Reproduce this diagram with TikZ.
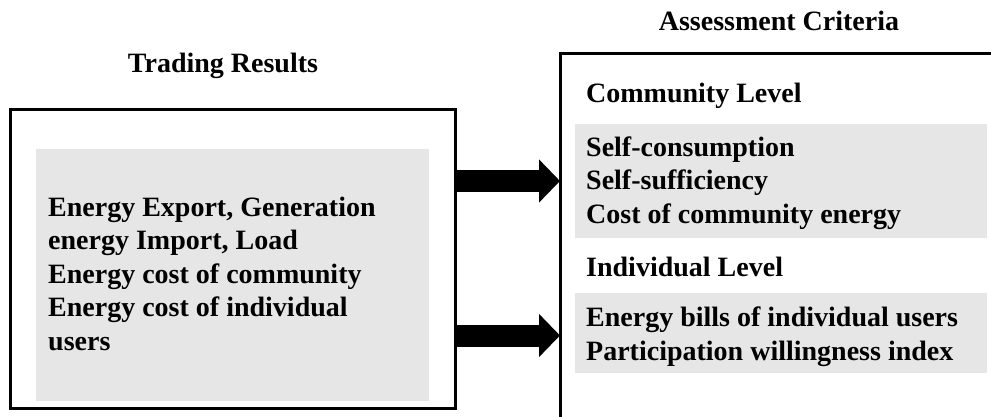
\documentclass[tikz,border=0pt]{standalone}
\usepackage{fontspec}
\setmainfont{Liberation Serif}
\usetikzlibrary{arrows.meta}
\definecolor{panelgray}{HTML}{E6E6E6}
\tikzset{
  frame/.style={draw=black, line width=3pt, fill=none},
  panel/.style={fill=panelgray, draw=none},
  % multi-line labels are placed by the baseline of their last line
  label/.style={inner sep=0pt, align=left, anchor=base west,
    font=\fontsize{28}{33.5}\selectfont\bfseries},
  heading/.style={inner sep=0pt, anchor=base,
    font=\fontsize{28}{33.5}\selectfont\bfseries},
  blockarrow/.style={draw=black, line width=22pt,
    -{Triangle[length=21pt,width=42pt]}},
}
\begin{document}
\begin{tikzpicture}[x=1pt,y=-1pt]
  \useasboundingbox (0,0) rectangle (991,416);
  \clip (0,0) rectangle (991,416);

  % headings
  \node[heading] (trtitle) at (223,72) {Trading Results};
  \node[heading] (actitle) at (779,30) {Assessment Criteria};

  % trading results frame
  \path[frame] (10,109) rectangle (455,408);
  \coordinate (left-e) at (455,258);
  \path[panel] (36,149) rectangle (429,401);
  \node[label] (results) at (48,350) {Energy Export, Generation\\energy Import, Load\\Energy cost of community\\Energy cost of individual\\users};

  % assessment criteria frame
  \path[frame] (560,53) rectangle (1010,440);
  \coordinate (right-w) at (560,240);
  \node[label] (comm) at (586,102) {Community Level};
  \path[panel] (575,124) rectangle (987,238);
  \node[label] (commlist) at (586,223) {Self-consumption\\Self-sufficiency\\Cost of community energy};
  \node[label] (indiv) at (586,276) {Individual Level};
  \path[panel] (575,293) rectangle (987,373);
  \node[label, font=\fontsize{28}{34.5}\selectfont\bfseries] (indivlist) at (586,360.5) {Energy bills of individual users\\Participation willingness index};

  % connectors
  \coordinate (row1) at (0,181);
  \coordinate (row2) at (0,335.5);
  \draw[blockarrow] ([xshift=-1pt]left-e |- row1) -- (right-w |- row1);
  \draw[blockarrow] ([xshift=-1pt]left-e |- row2) -- (right-w |- row2);
\end{tikzpicture}
\end{document}
